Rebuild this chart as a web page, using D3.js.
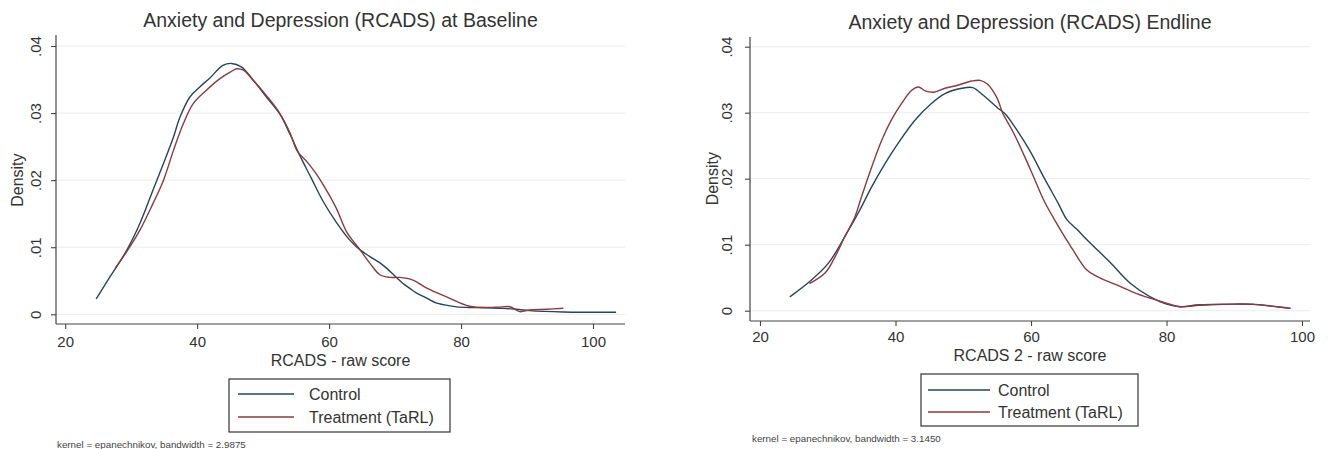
<!DOCTYPE html>
<html>
<head>
<meta charset="utf-8">
<script src="https://cdn.jsdelivr.net/npm/d3@7"></script>
<style>
  body { margin: 0; background: #fff; }
  svg { display: block; font-family: "Liberation Sans", Arial, sans-serif; }
</style>
</head>
<body>
<svg id="chart" width="1328" height="449"></svg>
<script>
const xTicks = [20, 40, 60, 80, 100];
const yTicks = [0, 0.01, 0.02, 0.03, 0.04];
const seriesNames = ["Control", "Treatment (TaRL)"];
const seriesColors = ["#24465c", "#8c3a3e"];

// kernel density curves: [score, density]
const baselineControl = [
  [24.7, .0023], [26.8, .0056], [29.3, .0095], [31.3, .0135], [33.3, .0185],
  [34.9, .0225], [36.4, .0264], [37.4, .0294], [38.9, .0324], [40.4, .0339],
  [41.9, .0352], [43.9, .0371], [45.2, .0374], [46.7, .0369], [48.5, .0349],
  [50.5, .0324], [52.5, .0299], [54.1, .0268], [55.5, .0238], [57.3, .0203],
  [59.0, .0170], [61.1, .0137], [63.1, .0111], [64.7, .0096], [66.2, .0086],
  [68.2, .0073], [70.2, .0055], [71.2, .0046], [72.2, .0039], [73.2, .0032],
  [74.8, .0024], [76.2, .0017], [77.5, .0014], [79.3, .0011], [82.3, .0010],
  [85.9, .0009], [88.0, .0008], [90.4, .00055], [95.5, .00035], [103.5, .0003]
];
const baselineTreatment = [
  [27.6, .0069], [29.3, .0093], [31.3, .0125], [33.3, .0165], [34.9, .0200],
  [36.4, .0244], [37.9, .0284], [39.4, .0314], [41.4, .0334], [43.4, .0351],
  [45.0, .0361], [46.0, .0366], [47.0, .0364], [48.5, .0349], [50.5, .0326],
  [52.5, .0300], [54.1, .0270], [55.2, .0243], [56.6, .0228], [58.0, .0210],
  [59.3, .0190], [61.1, .0158], [62.7, .0122], [64.7, .0096], [66.2, .0076],
  [67.7, .0059], [69.2, .0055], [70.7, .0055], [72.7, .0051], [74.8, .0039],
  [77.8, .0026], [81.3, .0012], [85.4, .00104], [87.4, .00113], [88.9, .0004],
  [90.4, .00064], [93.0, .00075], [95.5, .0009]
];
const endlineControl = [
  [24.4, .0021], [27.6, .00465], [30.1, .0072], [32.5, .0112], [34.5, .0148],
  [36.5, .0188], [38.45, .0223], [40.4, .0254], [42.9, .0289], [45.3, .0314],
  [47.3, .0329], [49.8, .0337], [51.4, .0338], [53.0, .0326], [55.0, .0308],
  [56.2, .0298], [57.5, .0280], [59.8, .0243], [62.0, .0200], [64.0, .0163],
  [65.3, .0138], [66.7, .0124], [68.7, .0103], [71.7, .0073], [74.6, .0042],
  [77.6, .0021], [80.0, .0010], [82.0, .0006], [84.7, .0008], [86.5, .0009],
  [90.0, .0010], [92.7, .0010], [95.5, .0007], [98.3, .00035]
];
const endlineTreatment = [
  [27.3, .0041], [29.6, .0057], [31.1, .0082], [32.5, .0112], [34.0, .0142],
  [35.0, .0173], [36.5, .0218], [38.0, .0259], [39.4, .0289], [40.9, .0314],
  [42.4, .0334], [43.4, .0339], [44.4, .0333], [45.6, .0331], [47.3, .0337],
  [49.3, .0342], [51.25, .0348], [52.5, .0349], [53.6, .0343], [55.0, .0322],
  [55.8, .0300], [57.4, .0270], [59.0, .0235], [60.5, .0200], [62.0, .0165],
  [63.8, .0132], [65.7, .0100], [66.2, .0092], [68.2, .0062], [69.7, .0052],
  [72.65, .0039], [75.6, .0026], [78.55, .0016], [80.5, .0010], [82.0, .0006],
  [84.7, .0009], [89.6, .0010], [92.7, .00096], [95.5, .0007], [98.3, .00035]
];

const panels = [
  {
    title: "Anxiety and Depression (RCADS) at Baseline",
    xTitle: "RCADS - raw score",
    note: "kernel = epanechnikov, bandwidth = 2.9875",
    series: [baselineControl, baselineTreatment],
    box: { left: 56, right: 625, top: 35, bottom: 324 },
    xRange: [65.2, 593], yRange: [314.3, 46],
    titleY: 20, xLabelY: 342, xTitleY: 360, yLabelX: 36, densityX: 17,
    legend: { left: 229, right: 450, top: 379, bottom: 432, rows: [394, 417], line: [238, 294], text: 309 },
    noteX: 57, noteY: 445
  },
  {
    title: "Anxiety and Depression (RCADS) Endline",
    xTitle: "RCADS 2 - raw score",
    note: "kernel = epanechnikov, bandwidth = 3.1450",
    series: [endlineControl, endlineTreatment],
    box: { left: 750, right: 1310, top: 37, bottom: 321 },
    xRange: [760, 1302], yRange: [310.7, 46.7],
    titleY: 22, xLabelY: 337, xTitleY: 355, yLabelX: 727, densityX: 712,
    legend: { left: 921, right: 1138, top: 374, bottom: 426, rows: [390, 412], line: [928, 990], text: 998 },
    noteX: 752, noteY: 439
  }
];

const svg = d3.select("#chart");
const ink = "#333";
const fmtY = d => d === 0 ? "0" : d3.format(".2f")(d).replace(/^0/, "");

function drawPanel(p) {
  const g = svg.append("g");
  const x = d3.scaleLinear().domain([20, 100]).range(p.xRange);
  const y = d3.scaleLinear().domain([0, 0.04]).range(p.yRange);
  const b = p.box;

  // grid
  g.selectAll("line.grid").data(yTicks).join("line")
    .attr("x1", b.left).attr("x2", b.right)
    .attr("y1", d => y(d)).attr("y2", d => y(d))
    .attr("stroke", "#ececec").attr("stroke-width", 1);

  // curves
  const line = d3.line().x(d => x(d[0])).y(d => y(d[1])).curve(d3.curveCatmullRom.alpha(0.5));
  p.series.forEach((s, i) => {
    g.append("path").datum(s).attr("d", line)
      .attr("fill", "none").attr("stroke", seriesColors[i]).attr("stroke-width", 1.4);
  });

  // axes
  const xAxis = g.append("g").attr("transform", `translate(0,${b.bottom})`)
    .call(d3.axisBottom(x).tickValues(xTicks).tickSize(5));
  const yAxis = g.append("g").attr("transform", `translate(${b.left},0)`)
    .call(d3.axisLeft(y).tickValues(yTicks).tickSize(5).tickFormat(fmtY));
  [xAxis, yAxis].forEach(a => {
    a.select(".domain").remove();
    a.selectAll(".tick line").attr("stroke", "#444").attr("stroke-width", 1.1);
    a.selectAll("text").attr("fill", ink).style("font-size", "15px")
      .style("font-family", "\"Liberation Sans\", Arial, sans-serif");
  });
  xAxis.selectAll("text").attr("y", p.xLabelY - b.bottom).attr("dy", "0.35em");
  yAxis.selectAll("text")
    .attr("x", 0).attr("dy", "0.35em").attr("text-anchor", "middle")
    .attr("transform", `translate(${p.yLabelX - b.left},0) rotate(-90)`);

  g.append("line").attr("x1", b.left).attr("x2", b.right).attr("y1", b.bottom).attr("y2", b.bottom)
    .attr("stroke", "#444").attr("stroke-width", 1.2);
  g.append("line").attr("x1", b.left).attr("x2", b.left).attr("y1", b.top).attr("y2", b.bottom)
    .attr("stroke", "#444").attr("stroke-width", 1.2);

  // titles
  const mid = (b.left + b.right) / 2;
  g.append("text").attr("x", mid).attr("y", p.titleY).attr("dy", "0.35em")
    .attr("text-anchor", "middle").attr("fill", ink).style("font-size", "19.5px").text(p.title);
  g.append("text").attr("x", mid).attr("y", p.xTitleY).attr("dy", "0.35em")
    .attr("text-anchor", "middle").attr("fill", ink).style("font-size", "16px").text(p.xTitle);
  g.append("text").attr("transform", `translate(${p.densityX},${(y(0) + y(0.04)) / 2}) rotate(-90)`)
    .attr("dy", "0.35em").attr("text-anchor", "middle").attr("fill", ink)
    .style("font-size", "16px").text("Density");

  // legend
  const L = p.legend;
  g.append("rect").attr("x", L.left).attr("y", L.top)
    .attr("width", L.right - L.left).attr("height", L.bottom - L.top)
    .attr("fill", "#fff").attr("stroke", "#333").attr("stroke-width", 1.2);
  seriesNames.forEach((name, i) => {
    g.append("line").attr("x1", L.line[0]).attr("x2", L.line[1])
      .attr("y1", L.rows[i]).attr("y2", L.rows[i])
      .attr("stroke", seriesColors[i]).attr("stroke-width", 1.4);
    g.append("text").attr("x", L.text).attr("y", L.rows[i]).attr("dy", "0.35em")
      .attr("fill", ink).style("font-size", "16px").text(name);
  });

  g.append("text").attr("x", p.noteX).attr("y", p.noteY).attr("dy", "0.35em")
    .attr("fill", "#444").style("font-size", "9.8px").text(p.note);
}

panels.forEach(drawPanel);
</script>
</body>
</html>
